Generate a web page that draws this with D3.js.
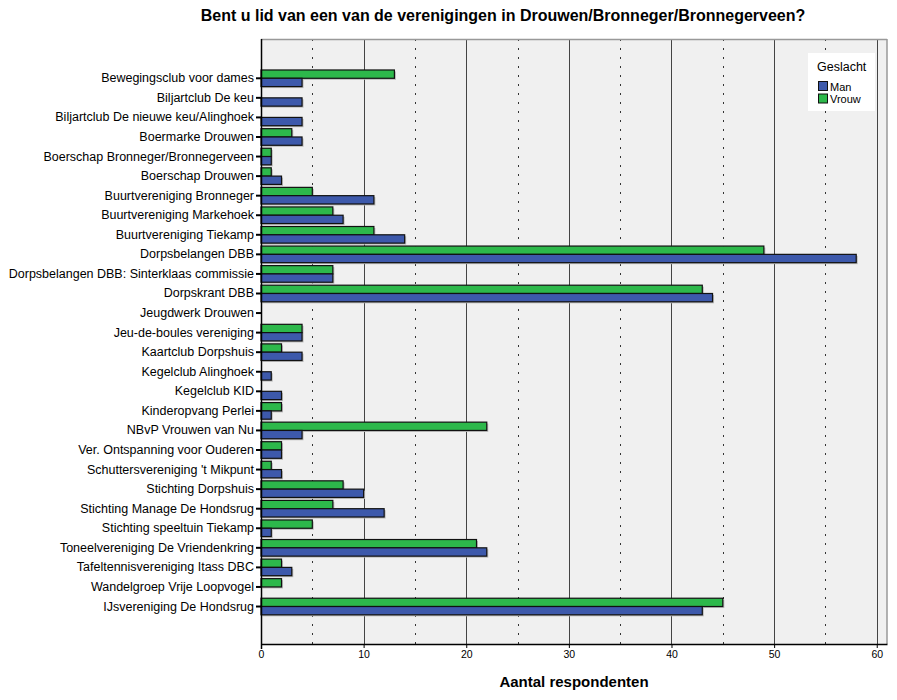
<!DOCTYPE html>
<html>
<head>
<meta charset="utf-8">
<script src="https://cdn.jsdelivr.net/npm/d3@7"></script>
<style>
body{margin:0;background:#fff;}
svg{display:block;font-family:Arial,"Liberation Sans",sans-serif;}
</style>
</head>
<body>
<svg id="chart" width="897" height="700"></svg>
<script>
const categories = [
  "Bewegingsclub voor dames","Biljartclub De keu","Biljartclub De nieuwe keu/Alinghoek",
  "Boermarke Drouwen","Boerschap Bronneger/Bronnegerveen","Boerschap Drouwen",
  "Buurtvereniging Bronneger","Buurtvereniging Markehoek","Buurtvereniging Tiekamp",
  "Dorpsbelangen DBB","Dorpsbelangen DBB: Sinterklaas commissie","Dorpskrant DBB",
  "Jeugdwerk Drouwen","Jeu-de-boules vereniging","Kaartclub Dorpshuis",
  "Kegelclub Alinghoek","Kegelclub KID","Kinderopvang Perlei","NBvP Vrouwen van Nu",
  "Ver. Ontspanning voor Ouderen","Schuttersvereniging 't Mikpunt","Stichting Dorpshuis",
  "Stichting Manage De Hondsrug","Stichting speeltuin Tiekamp","Toneelvereniging De Vriendenkring",
  "Tafeltennisvereniging Itass DBC","Wandelgroep Vrije Loopvogel","IJsvereniging De Hondsrug"
];
const manValues   = [4,4,4,4,1,2,11,8,14,58,7,44,0,4,4,1,2,1,4,2,2,10,12,1,22,3,0,43];
const vrouwValues = [13,0,0,3,1,1,5,7,11,49,7,43,0,4,2,0,0,2,22,2,1,8,7,5,21,2,2,45];
const seriesNames = ["Man","Vrouw"];
const xTicks = [0,10,20,30,40,50,60];
const xMinorTicks = [5,15,25,35,45,55];
const titleText = "Bent u lid van een van de verenigingen in Drouwen/Bronneger/Bronnegerveen?";
const xTitle = "Aantal respondenten";
const legendTitle = "Geslacht";

const colors = {Man:"#3d59ab", Vrouw:"#2db84b"};
const svg = d3.select("#chart");
const L = 261, R = 887, T = 39, B = 644;

const x = d3.scaleLinear().domain([0,61]).range([L,R]);
const y = d3.scaleBand().domain(categories).range([68.5,616.3]);
const sub = d3.scaleBand().domain(["Vrouw","Man"]).range([0,16.6]);
const inset = (y.bandwidth()-16.6)/2;

// background
svg.append("rect").attr("x",L).attr("y",T).attr("width",R-L).attr("height",B-T).attr("fill","#f0f0f0");

// gridlines
svg.append("g").selectAll("line").data(xMinorTicks).join("line")
  .attr("x1",d=>Math.round(x(d))+0.5).attr("x2",d=>Math.round(x(d))+0.5)
  .attr("y1",T).attr("y2",B)
  .attr("stroke","#333").attr("stroke-width",1).attr("stroke-dasharray","2,7");
svg.append("g").selectAll("line").data(xTicks.filter(d=>d>0)).join("line")
  .attr("x1",d=>Math.round(x(d))+0.5).attr("x2",d=>Math.round(x(d))+0.5)
  .attr("y1",T).attr("y2",B)
  .attr("stroke","#444").attr("stroke-width",1);

// border top/right
svg.append("line").attr("x1",L).attr("x2",R).attr("y1",T+0.5).attr("y2",T+0.5).attr("stroke","#999").attr("stroke-width",1.5);
svg.append("line").attr("x1",R).attr("x2",R).attr("y1",T).attr("y2",B).attr("stroke","#999").attr("stroke-width",1.5);

// bars
const rows = [];
categories.forEach((c,i)=>{
  rows.push({cat:c, s:"Vrouw", v:vrouwValues[i]});
  rows.push({cat:c, s:"Man", v:manValues[i]});
});
const barRows = rows.filter(d=>d.v>0);
const off = 1.5;
svg.append("g").selectAll("rect").data(barRows).join("rect")
  .attr("x",x(0)+off).attr("y",d=>y(d.cat)+inset+sub(d.s)+off)
  .attr("width",d=>x(d.v)-x(0)).attr("height",sub.bandwidth())
  .attr("fill","#b8b8b8");
svg.append("g").selectAll("rect").data(barRows).join("rect")
  .attr("x",x(0)).attr("y",d=>y(d.cat)+inset+sub(d.s))
  .attr("width",d=>x(d.v)-x(0)).attr("height",sub.bandwidth())
  .attr("fill",d=>colors[d.s]).attr("stroke","#111").attr("stroke-width",1.2);

// y axis
const yAxis = d3.axisLeft(y).tickSize(5).tickPadding(2);
const gy = svg.append("g").attr("transform",`translate(${L},0)`).call(yAxis);
gy.select(".domain").remove();
gy.selectAll(".tick line").attr("stroke","#000").attr("stroke-width",2);
gy.selectAll(".tick text").attr("font-size","12.5px").attr("fill","#000").attr("font-family","Arial,'Liberation Sans',sans-serif");
svg.append("line").attr("x1",L+0.5).attr("x2",L+0.5).attr("y1",T).attr("y2",B+5).attr("stroke","#000").attr("stroke-width",1.5);

// x axis
const xAxis = d3.axisBottom(x).tickValues(xTicks).tickSize(4).tickPadding(3).tickSizeOuter(0);
const gx = svg.append("g").attr("transform",`translate(0,${B})`).call(xAxis);
gx.select(".domain").attr("stroke","#000").attr("stroke-width",1.5);
gx.selectAll(".tick line").attr("stroke","#000");
gx.selectAll(".tick text").attr("font-size","10.5px").attr("fill","#000").attr("font-family","Arial,'Liberation Sans',sans-serif");

// titles
svg.append("text").attr("x",503).attr("y",21).attr("text-anchor","middle")
  .attr("font-size","16px").attr("font-weight","bold").attr("fill","#000").text(titleText);
svg.append("text").attr("x",574).attr("y",687).attr("text-anchor","middle")
  .attr("font-size","15px").attr("font-weight","bold").attr("fill","#000").text(xTitle);

// legend
const lg = svg.append("g");
lg.append("rect").attr("x",808).attr("y",53).attr("width",67).attr("height",58).attr("fill","#fff");
lg.append("text").attr("x",817).attr("y",71).attr("font-size","12.5px").attr("fill","#000").text(legendTitle);
seriesNames.forEach((s,i)=>{
  lg.append("rect").attr("x",818.5).attr("y",81.5+i*12.5).attr("width",9).attr("height",9)
    .attr("fill",colors[s]).attr("stroke","#111").attr("stroke-width",1);
  lg.append("text").attr("x",830).attr("y",90.5+i*12.5).attr("font-size","11px").attr("fill","#000").text(s);
});
</script>
</body>
</html>
